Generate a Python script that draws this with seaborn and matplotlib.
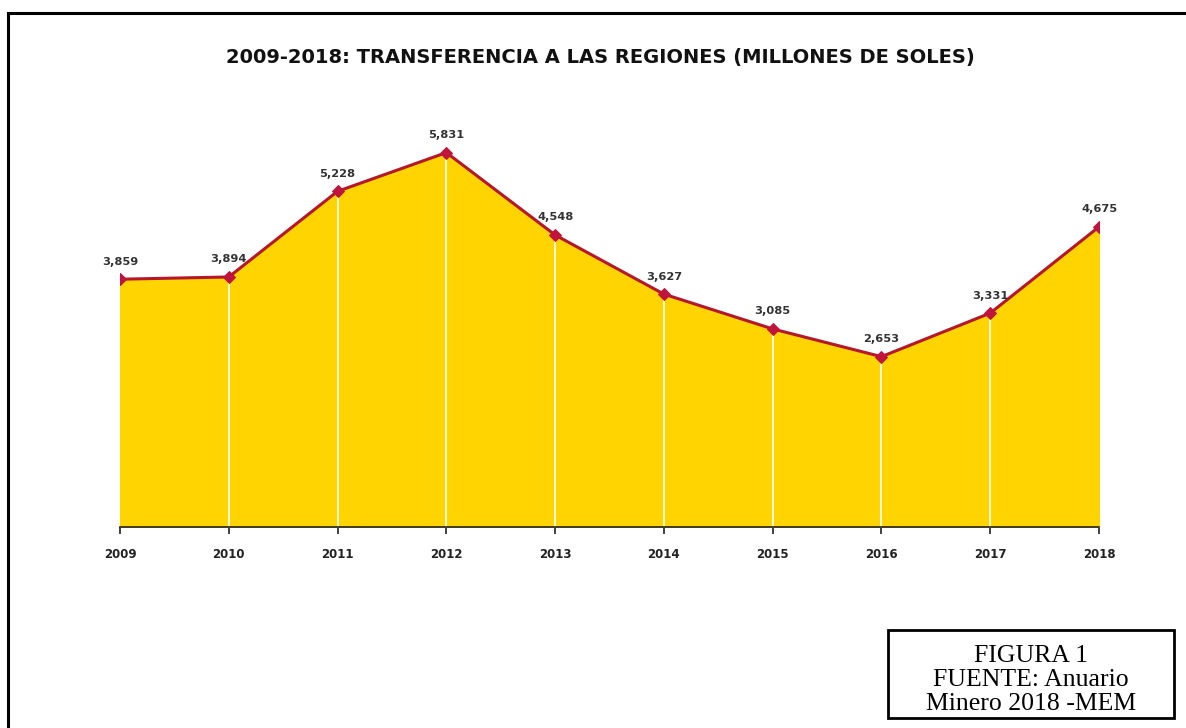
import matplotlib
matplotlib.use('Agg')
import matplotlib.pyplot as plt
import seaborn as sns
import pandas as pd
from matplotlib.patches import Rectangle

# datos: transferencia a las regiones (millones de soles)
years = [2009, 2010, 2011, 2012, 2013, 2014, 2015, 2016, 2017, 2018]
values = [3859, 3894, 5228, 5831, 4548, 3627, 3085, 2653, 3331, 4675]
labels = ['3,859', '3,894', '5,228', '5,831', '4,548', '3,627', '3,085', '2,653', '3,331', '4,675']

df = pd.DataFrame({'anio': years, 'valor': values})

sns.set_style('white')
plt.rcParams['font.family'] = ['DejaVu Sans']

fig = plt.figure(figsize=(11.86, 7.28), dpi=100)
ax = fig.add_axes([120/1186, 1 - 527/728, (1099 - 120)/1186, (527 - 100)/728])

# area amarilla
ax.fill_between(df['anio'], 0, df['valor'], color='#FFD400', zorder=1)
# lineas blancas verticales en cada año
ax.vlines(df['anio'][1:-1], 0, df['valor'][1:-1], colors='white', linewidth=1.2, zorder=2)
# linea roja con marcadores
sns.lineplot(data=df, x='anio', y='valor', ax=ax, color='#B5172B', linewidth=2.2,
             marker='D', markersize=6.5, markerfacecolor='#C0143C', markeredgecolor='#C0143C', zorder=3)

for x, y, t in zip(years, values, labels):
    ax.annotate(t, (x, y), xytext=(0, 9), textcoords='offset points', ha='center', va='bottom',
                fontsize=8.2, fontweight='bold', color='#333333')

ax.set_xlim(2009, 2018)
ax.set_ylim(0, 6650)
ax.set_xticks(years)
ax.set_xticklabels([str(y) for y in years], fontsize=8.5, fontweight='bold', color='#222222')
ax.set_yticks([])
ax.set_xlabel('')
ax.set_ylabel('')
for s in ['top', 'right', 'left']:
    ax.spines[s].set_visible(False)
ax.spines['bottom'].set_color('#222222')
ax.spines['bottom'].set_linewidth(1.2)
ax.tick_params(axis='x', direction='out', length=5, width=1.2, color='#222222', pad=10, bottom=True)
ax.patch.set_alpha(0)

fig.text(600/1186, 1 - 58/728, '2009-2018: TRANSFERENCIA A LAS REGIONES (MILLONES DE SOLES)',
         ha='center', va='center', fontsize=14, fontweight='bold', color='#111111')

# marco exterior
fig.patches.append(Rectangle((8/1186, -0.05), 1.2, 1 - 13/728 + 0.05, transform=fig.transFigure,
                             fill=False, edgecolor='black', linewidth=2.2))
# cuadro de fuente
fig.patches.append(Rectangle((888/1186, 1 - 718/728), (1174 - 888)/1186, (718 - 630)/728,
                             transform=fig.transFigure, fill=False, edgecolor='black', linewidth=2))
fig.text(1031/1186, 1 - 680/728, 'FIGURA 1\nFUENTE: Anuario\nMinero 2018 -MEM', ha='center', va='center',
         fontsize=18.5, family='Liberation Serif', linespacing=1.12, color='black')

fig.savefig('out.png', dpi=100)
